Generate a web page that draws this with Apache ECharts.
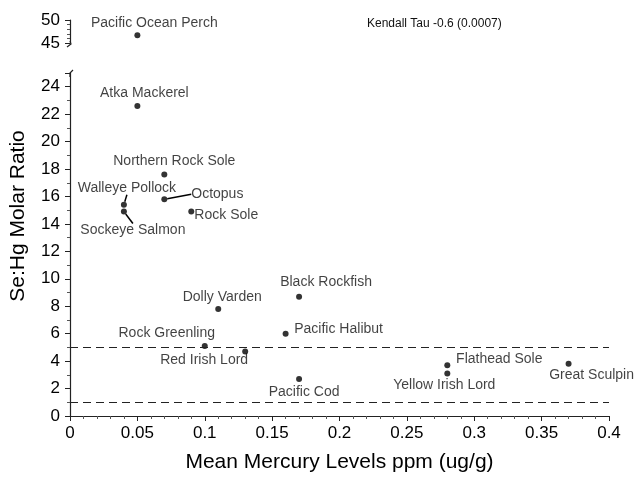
<!DOCTYPE html>
<html>
<head>
<meta charset="utf-8">
<script src="https://cdn.jsdelivr.net/npm/echarts@6/dist/echarts.min.js"></script>
<style>
  html, body { margin: 0; padding: 0; background: #fff; }
  #main { width: 644px; height: 483px; }
</style>
</head>
<body>
<div id="main"></div>
<script>
// 数据
var species = ['Pacific Ocean Perch', 'Atka Mackerel', 'Northern Rock Sole', 'Octopus',
  'Walleye Pollock', 'Sockeye Salmon', 'Rock Sole', 'Dolly Varden', 'Rock Greenling',
  'Red Irish Lord', 'Black Rockfish', 'Pacific Halibut', 'Pacific Cod', 'Flathead Sole',
  'Yellow Irish Lord', 'Great Sculpin']
var mercury = [0.05, 0.05, 0.07, 0.07, 0.04, 0.04, 0.09, 0.11, 0.10, 0.13, 0.17, 0.16, 0.17, 0.28, 0.28, 0.37]
var seHgRatio = [46.7, 22.6, 17.6, 15.8, 15.4, 14.9, 14.9, 7.8, 5.1, 4.7, 8.7, 6.0, 2.7, 3.7, 3.1, 3.8]
var thresholds = [5, 1]
var xTicks = { min: 0, max: 0.4, interval: 0.05 }
var breakAt = 25

// 标签偏移 (px)
var labelOffsets = {
  'Pacific Ocean Perch': [17, -12],
  'Atka Mackerel': [7, -13],
  'Northern Rock Sole': [10, -13],
  'Octopus': [53, -5],
  'Walleye Pollock': [3, -17],
  'Sockeye Salmon': [9, 19],
  'Rock Sole': [35, 4],
  'Dolly Varden': [4, -12],
  'Rock Greenling': [-38, -13],
  'Red Irish Lord': [-41, 9],
  'Black Rockfish': [27, -14],
  'Pacific Halibut': [53, -5],
  'Pacific Cod': [5, 13],
  'Flathead Sole': [52, -6],
  'Yellow Irish Lord': [-3, 12],
  'Great Sculpin': [23, 11]
}
var leaders = ['Octopus', 'Walleye Pollock', 'Sockeye Salmon']

var font = 'Liberation Sans, Arial, sans-serif'
var lowData = [], highData = []
species.forEach(function (name, i) {
  var item = { name: name, value: [mercury[i], seHgRatio[i]] }
  if (leaders.indexOf(name) >= 0) item.labelLine = { show: true }
  if (seHgRatio[i] > breakAt) highData.push(item)
  else lowData.push(item)
})

function layoutFor(data) {
  return function (params) {
    var off = labelOffsets[data[params.dataIndex].name] || [0, 0]
    return { dx: off[0], dy: off[1] }
  }
}

var labelCfg = {
  show: true,
  position: 'inside',
  formatter: '{b}',
  color: '#111',
  fontFamily: font,
  fontSize: 14
}

var myChart = echarts.init(document.getElementById('main'))

var axisLineCfg = { show: true, lineStyle: { color: '#222', width: 1.2 } }

var option = {
  animation: false,
  backgroundColor: '#fff',
  grid: [
    { left: 70, right: 35, top: 20, height: 23 },
    { left: 70, right: 35, top: 73, bottom: 67 }
  ],
  xAxis: [
    { gridIndex: 0, type: 'value', min: xTicks.min, max: xTicks.max, show: false },
    {
      gridIndex: 1, type: 'value', min: xTicks.min, max: xTicks.max, interval: xTicks.interval,
      axisLine: axisLineCfg,
      axisTick: { show: true, length: 5, lineStyle: { color: '#222' } },
      minorTick: { show: true, splitNumber: 5, length: 3, lineStyle: { color: '#555' } },
      splitLine: { show: false },
      axisLabel: { color: '#000', fontFamily: font, fontSize: 17, margin: 9 },
      name: 'Mean Mercury Levels ppm (ug/g)',
      nameLocation: 'middle',
      nameGap: 36,
      nameTextStyle: { color: '#000', fontFamily: font, fontSize: 21 }
    }
  ],
  yAxis: [
    {
      gridIndex: 0, type: 'value', min: 45, max: 50, interval: 5,
      axisLine: axisLineCfg,
      axisTick: { show: true, length: 5, lineStyle: { color: '#222' } },
      minorTick: { show: true, splitNumber: 5, length: 3, lineStyle: { color: '#555' } },
      splitLine: { show: false },
      axisLabel: { color: '#000', fontFamily: font, fontSize: 17, margin: 10 }
    },
    {
      gridIndex: 1, type: 'value', min: 0, max: breakAt, interval: 2,
      axisLine: axisLineCfg,
      axisTick: { show: true, length: 5, lineStyle: { color: '#222' } },
      minorTick: { show: true, splitNumber: 2, length: 3, lineStyle: { color: '#555' } },
      splitLine: { show: false },
      axisLabel: { color: '#000', fontFamily: font, fontSize: 17, margin: 10, showMaxLabel: false }
    }
  ],
  series: [
    {
      type: 'scatter', xAxisIndex: 0, yAxisIndex: 0,
      symbolSize: 6, itemStyle: { color: '#000' },
      data: highData,
      label: labelCfg,
      labelLayout: layoutFor(highData)
    },
    {
      type: 'scatter', xAxisIndex: 1, yAxisIndex: 1,
      symbolSize: 6, itemStyle: { color: '#000' },
      data: lowData,
      label: labelCfg,
      labelLine: { show: false, lineStyle: { color: '#000', width: 1.5 } },
      labelLayout: layoutFor(lowData),
      markLine: {
        silent: true,
        symbol: 'none',
        label: { show: false },
        lineStyle: { color: '#222', type: [8, 5], width: 1.2 },
        data: thresholds.map(function (v) { return { yAxis: v } })
      }
    }
  ],
  graphic: [
    {
      type: 'text', left: 367, top: 18,
      style: { text: 'Kendall Tau -0.6 (0.0007)', fill: '#111', font: '12px ' + font }
    },
    {
      type: 'text', x: 18, y: 216, rotation: Math.PI / 2,
      style: {
        text: 'Se:Hg Molar Ratio', fill: '#000', font: '21px ' + font,
        textAlign: 'center', textVerticalAlign: 'middle'
      }
    },
    // 断轴标记
    {
      type: 'polyline',
      shape: { points: [[70, 41], [71, 44], [67, 47]] },
      style: { stroke: '#222', lineWidth: 1.2, fill: null }
    },
    {
      type: 'polyline',
      shape: { points: [[70, 77], [70, 73], [73, 70]] },
      style: { stroke: '#222', lineWidth: 1.2, fill: null }
    }
  ]
}

myChart.setOption(option)
</script>
</body>
</html>
